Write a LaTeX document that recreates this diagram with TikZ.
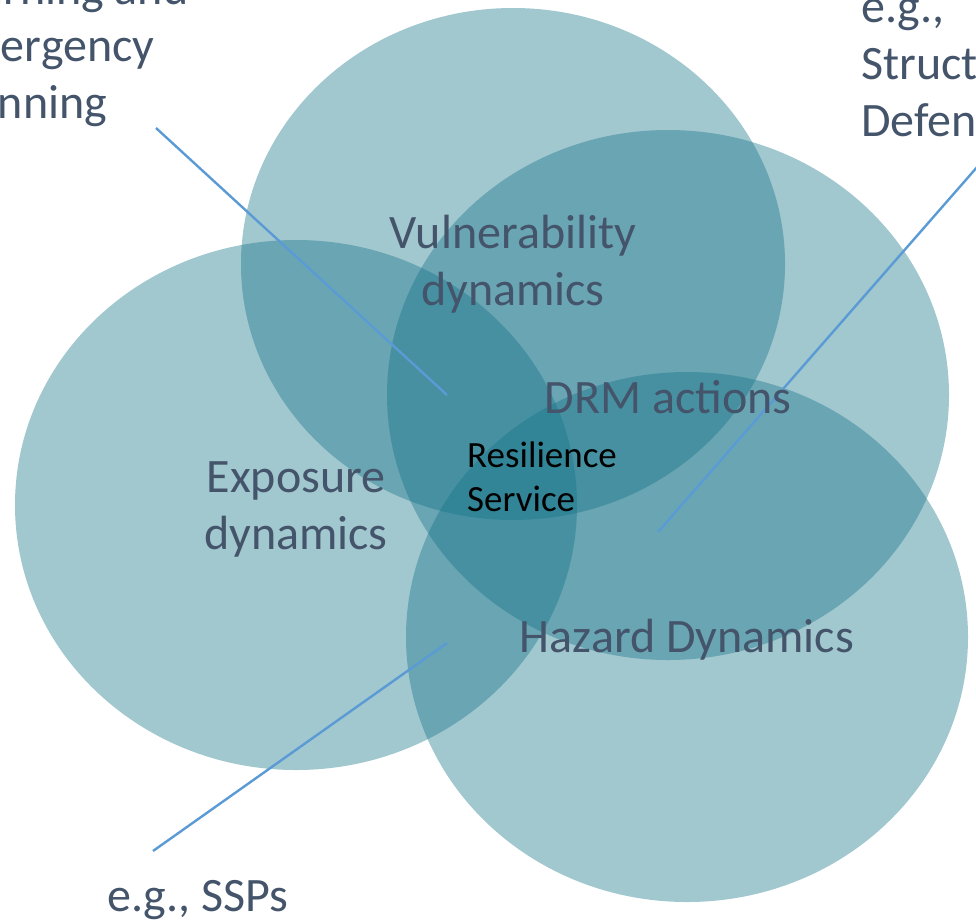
\documentclass[tikz,border=0pt]{standalone}
\usepackage{fontspec}
\setmainfont{Carlito}
\usepackage{tikz}
\usetikzlibrary{shapes,positioning}

\definecolor{ringteal}{RGB}{20,114,135}
\definecolor{slate}{HTML}{44546A}
\definecolor{leaderblue}{HTML}{5B9BD5}

\begin{document}
\begin{tikzpicture}[x=1pt, y=-1pt,
            zone/.style={ellipse, fill=ringteal, fill opacity=0.4, inner sep=0pt, minimum width=562pt, minimum height=530pt},
            big/.style={text=slate, font=\fontsize{48}{57}\selectfont, align=center, inner sep=0pt},
            note/.style={big, align=left, anchor=west},
            leader/.style={draw=leaderblue, line width=2.4pt}
        ]
            \useasboundingbox (0,0) rectangle (976,921);
            \clip (0,0) rectangle (976,921);

            \node[zone, minimum width=544pt, minimum height=512pt] (vuln) at (513,264) {};
            \node[zone] (expo) at (296,505) {};
            \node[zone] (drm) at (668,395) {};
            \node[zone] (haz) at (687,637) {};

            \coordinate (warning end) at (156,128);
            \coordinate (warning tip) at (447,395);
            \coordinate (defence end) at (985,158);
            \coordinate (defence tip) at (658,532);
            \coordinate (ssp end) at (153,851);
            \coordinate (ssp tip) at (447,643);

            \draw[leader] (warning end) -- (warning tip);
            \draw[leader] (defence end) -- (defence tip);
            \draw[leader] (ssp end) -- (ssp tip);

            \node[big] (vuln label) at (513,264) {Vulnerability\\dynamics};
            \node[big] (drm label) at (668,397) {DRM actions};
            \node[big] (expo label) at (296,509) {Exposure\\dynamics};
            \node[big] (haz label) at (687,640) {Hazard Dynamics};
            \node[font=\fontsize{37}{44}\selectfont, align=left, anchor=west, inner sep=0pt] (core) at (467,477) {Resilience\\Service};

            \node[big] (ssp) at (198,900) {e.g., SSPs};
            \node[note] (defence) at (861,68) {e.g.,\\Structural\\Defence};
            \node[note] (warning) at (-61,49) {Warning and\\Emergency\\Planning};
        \end{tikzpicture}
\end{document}
